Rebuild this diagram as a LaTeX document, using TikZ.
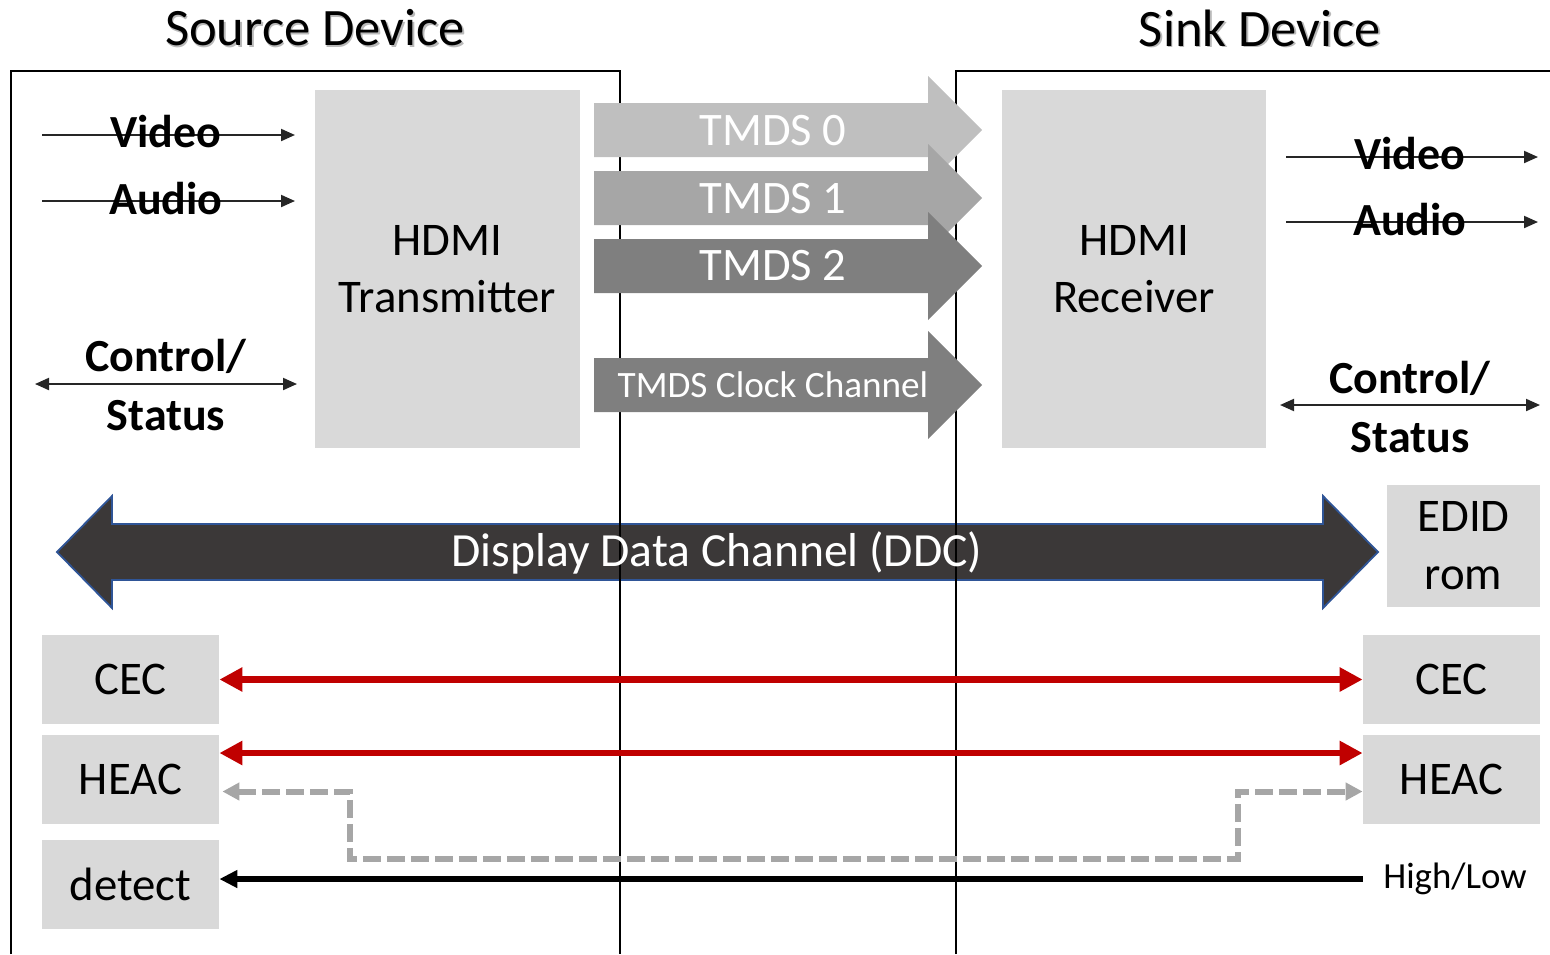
\documentclass[tikz,border=0pt]{standalone}
\usepackage{fontspec}
\setmainfont{Carlito}
\usetikzlibrary{arrows.meta}

\definecolor{boxgray}{HTML}{D9D9D9}
\definecolor{tmdsA}{HTML}{BFBFBF}
\definecolor{tmdsB}{HTML}{A6A6A6}
\definecolor{tmdsC}{HTML}{7F7F7F}
\definecolor{ddcfill}{HTML}{3B3838}
\definecolor{ddcline}{HTML}{2F5597}
\definecolor{cecred}{HTML}{C00000}
\definecolor{tipgray}{HTML}{262626}
\definecolor{dashgray}{HTML}{A6A6A6}

\tikzset{
  title/.style={font=\fontsize{26.3}{30}\selectfont, inner sep=0pt},
  titleshadow/.style={title, text=black!45, opacity=0.6},
  unit/.style={fill=boxgray, inner sep=0pt, align=center,
               font=\fontsize{23.4}{28.5}\selectfont},
  sig/.style={font=\bfseries\fontsize{23}{29}\selectfont, inner sep=0pt, align=center},
  sigline/.style={draw=tipgray, line width=1pt,
                  -{Triangle[length=7pt,width=6pt]}},
  sigboth/.style={draw=tipgray, line width=1pt,
                  {Triangle[length=7pt,width=6pt]}-{Triangle[length=7pt,width=6pt]}},
  chanlabel/.style={text=white, inner sep=0pt, font=\fontsize{23.3}{28}\selectfont},
  border/.style={draw=black, line width=1pt},
  redlink/.style={draw=cecred, line width=3.25pt,
                  {Triangle[length=11.5pt,width=11.5pt]}-{Triangle[length=11.5pt,width=11.5pt]}},
  dashlink/.style={draw=dashgray, line width=3pt, dash pattern=on 9pt off 3pt,
                  {Triangle[length=8.5pt,width=8.5pt]}-{Triangle[length=8.5pt,width=8.5pt]}},
  hotplug/.style={draw=black, line width=2.9pt, -{Triangle[length=9pt,width=8.5pt]}}
}

% draws a TMDS block arrow centred on height #1, filled with colour #2
\newcommand{\tmdsblock}[2]{%
  \fill[#2] (594,{#1-27}) -- (928,{#1-27}) -- (928,{#1-54}) -- (982,#1)
    -- (928,{#1+54}) -- (928,{#1+27}) -- (594,{#1+27}) -- cycle;}

\begin{document}
\begin{tikzpicture}[x=0.5pt,y=-0.5pt]
\useasboundingbox (0,0) rectangle (1550,954);

% titles with a soft drop shadow
\node[titleshadow] (srcShadow) at (316.5,29.5) {Source Device};
\node[title] (srcTitle) at (315,28) {Source Device};
\node[titleshadow] (snkShadow) at (1261.5,29.5) {Sink Device};
\node[title] (snkTitle) at (1260,28) {Sink Device};

% Display Data Channel (drawn under the device borders)
\filldraw[fill=ddcfill, draw=ddcline, line width=0.9pt]
  (57,552) -- (112,496) -- (112,524) -- (1323,524) -- (1323,496) -- (1378,552)
  -- (1323,608) -- (1323,580) -- (112,580) -- (112,608) -- cycle;

% device borders
\draw[border] (11,954) -- (11,71) -- (620,71) -- (620,954);
\draw[border] (956,954) -- (956,71) -- (1550,71);

\node[chanlabel, font=\fontsize{23.8}{28}\selectfont] (ddc) at (717,553) {Display Data Channel (DDC)};

% TMDS data and clock channels
\tmdsblock{130}{tmdsA}
\node[chanlabel] (tmds0) at (773,131) {TMDS 0};
\tmdsblock{198}{tmdsB}
\node[chanlabel] (tmds1) at (773,199) {TMDS 1};
\tmdsblock{266}{tmdsC}
\node[chanlabel] (tmds2) at (773,266) {TMDS 2};
\tmdsblock{385}{tmdsC}
\node[chanlabel, font=\fontsize{18.6}{22}\selectfont] (tmdsclk) at (773,385) {TMDS Clock Channel};

% functional units
\node[unit, minimum width=132.5pt, minimum height=179pt] (tx) at (447.5,269) {HDMI\\Transmitter};
\node[unit, minimum width=132pt, minimum height=179pt] (rx) at (1134,269) {HDMI\\Receiver};
\node[unit, minimum width=76.5pt, minimum height=61pt, font=\fontsize{23.4}{29}\selectfont] (edid) at (1463.5,546) {EDID\\rom};
\node[unit, minimum width=88.5pt, minimum height=44.5pt] (cecL) at (130.5,679.5) {CEC};
\node[unit, minimum width=88.5pt, minimum height=44.5pt] (heacL) at (130.5,779.5) {HEAC};
\node[unit, minimum width=88.5pt, minimum height=44.5pt] (detL) at (130.5,884.5) {detect};
\node[unit, minimum width=88.5pt, minimum height=44.5pt] (cecR) at (1451.5,679.5) {CEC};
\node[unit, minimum width=88.5pt, minimum height=44.5pt] (heacR) at (1451.5,779.5) {HEAC};

% source side signals
\coordinate (vinL) at (42,135);   \coordinate (voutL) at (295,135);
\coordinate (ainL) at (42,201);   \coordinate (aoutL) at (295,201);
\coordinate (csAL) at (35,384);   \coordinate (csBL) at (297,384);
\draw[sigline] (vinL) -- (voutL);
\draw[sigline] (ainL) -- (aoutL);
\draw[sigboth] (csAL) -- (csBL);
\node[sig] (videoL) at (166,132) {Video};
\node[sig] (audioL) at (166,199) {Audio};
\node[sig] (ctrlL) at (166,385) {Control/\\[0.45pt]Status};

% sink side signals
\coordinate (vinR) at (1286,157);  \coordinate (voutR) at (1538,157);
\coordinate (ainR) at (1286,222);  \coordinate (aoutR) at (1538,222);
\coordinate (csAR) at (1280,405);  \coordinate (csBR) at (1540,405);
\draw[sigline] (vinR) -- (voutR);
\draw[sigline] (ainR) -- (aoutR);
\draw[sigboth] (csAR) -- (csBR);
\node[sig] (videoR) at (1410,154) {Video};
\node[sig] (audioR) at (1410,220) {Audio};
\node[sig] (ctrlR) at (1410,407) {Control/\\[0.45pt]Status};

% CEC and HEAC links
\draw[redlink] (cecL.east) -- (cecR.west);
\draw[redlink] ([yshift=13.25pt]heacL.east) -- ([yshift=13.25pt]heacR.west);
\coordinate (dA) at (350,859);
\coordinate (dB) at (1238,859);
\draw[dashlink] ([xshift=1.5pt,yshift=-6pt]heacL.east) -| (dA) -- (dB) |- ([yshift=-6pt]heacR.west);

% hot plug detect
\node[inner sep=0pt, font=\fontsize{18.4}{22}\selectfont] (hilo) at (1455,879) {High/Low};
\draw[hotplug] (hilo.west -| cecR.west) -- (hilo.west -| detL.east);
\end{tikzpicture}
\end{document}
